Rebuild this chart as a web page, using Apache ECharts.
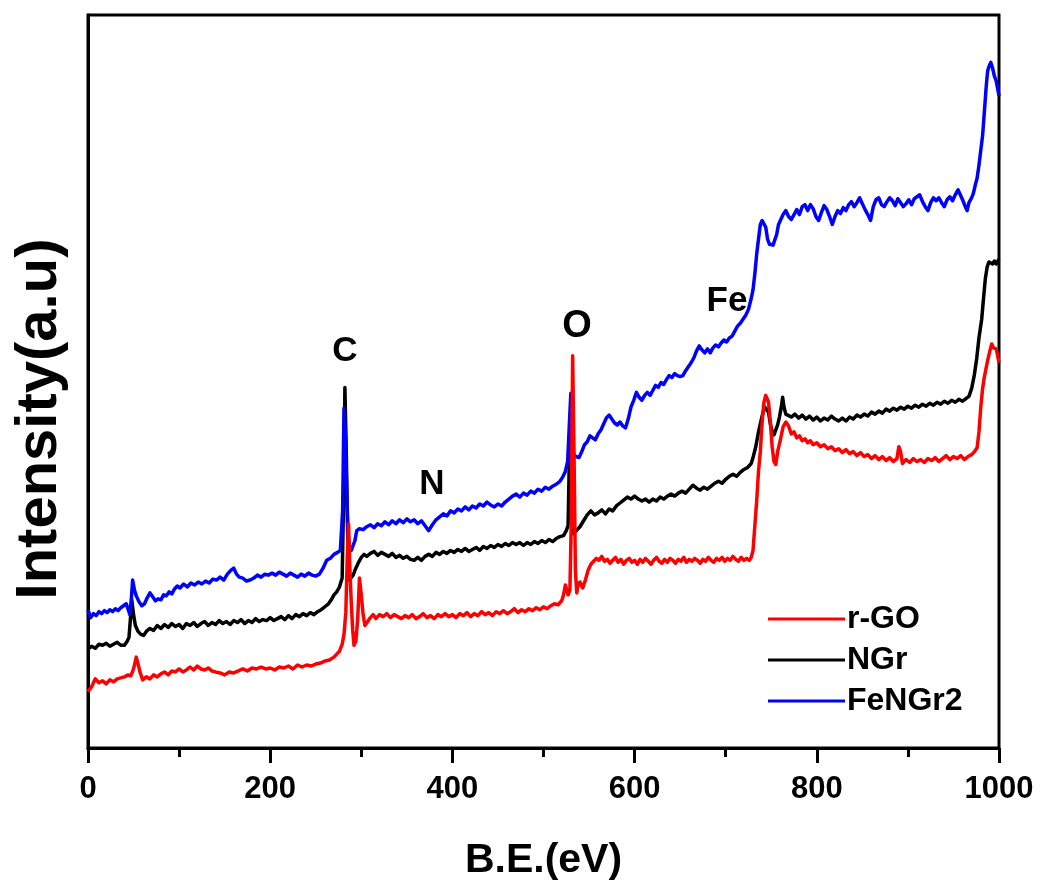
<!DOCTYPE html>
<html>
<head>
<meta charset="utf-8">
<title>XPS survey spectra</title>
<script src="https://cdn.jsdelivr.net/npm/echarts@6/dist/echarts.min.js"></script>
<style>
  html, body { margin: 0; padding: 0; background: #ffffff; }
  #chart { width: 1041px; height: 886px; }
</style>
</head>
<body>
<div id="chart"></div>
<script>
// XPS survey spectra: [binding energy (eV), intensity (a.u.)]
const rGO = [[0,57],[4,62],[8,70],[12,66],[16,68],[20,65],[24,69],[28,67],[32,70],[36,71],[40,72],[44,74],[47,73],[50,80],[53,92],[55,85],[57,77],[60,69],[64,72],[68,70],[72,74],[76,72],[80,75],[84,77],[88,74],[92,78],[96,77],[100,80],[104,77],[108,79],[112,82],[116,79],[120,83],[124,80],[128,79],[132,81],[136,78],[140,77],[145,76],[150,74],[155,77],[160,76],[165,78],[170,80],[175,78],[180,81],[185,80],[190,82],[195,80],[200,81],[205,79],[210,82],[215,81],[220,83],[225,80],[230,84],[235,82],[240,84],[245,83],[250,85],[255,86],[260,88],[265,89],[270,92],[273,95],[276,98],[279,105],[281,115],[283,137],[284.5,190],[286,227],[287.5,180],[289,147],[290.5,120],[292,104],[294,108],[296,130],[298,172],[300,155],[302,135],[304,124],[307,128],[310,132],[313,135],[316,131],[320,135],[324,133],[328,136],[332,132],[336,135],[340,133],[344,131],[348,134],[352,132],[356,135],[360,131],[364,133],[368,136],[372,132],[376,134],[380,131],[384,135],[388,133],[392,136],[396,133],[400,135],[404,132],[408,136],[412,134],[416,137],[420,133],[424,136],[428,134],[432,138],[436,135],[440,137],[444,134],[448,138],[452,136],[456,139],[460,136],[464,138],[468,141],[472,137],[476,140],[480,138],[484,141],[488,139],[492,142],[496,140],[500,143],[504,141],[508,144],[512,146],[516,145],[520,149],[522,155],[524,165],[525.5,167],[527,155],[529,160],[530.5,230],[532,397],[533.5,300],[535,180],[536.5,157],[538,165],[540,168],[543,162],[546,170],[549,180],[552,186],[555,189],[558,192],[561,190],[564,194],[567,189],[570,191],[573,187],[576,190],[579,193],[582,188],[585,191],[588,186],[591,190],[594,192],[597,188],[600,190],[603,186],[606,191],[609,188],[612,192],[615,189],[618,186],[621,190],[624,193],[627,189],[630,187],[633,191],[636,188],[639,192],[642,190],[645,187],[648,191],[651,189],[654,193],[657,188],[660,191],[663,189],[666,192],[669,190],[672,187],[675,191],[678,189],[681,193],[684,190],[687,188],[690,192],[693,190],[696,193],[699,189],[702,192],[705,190],[708,194],[711,191],[714,189],[717,193],[720,190],[723,192],[726,190],[728,193],[730,200],[732,225],[734,250],[736,280],[738,300],[740,330],[742,350],[744,357],[745.5,359],[747,350],[749,330],[751,305],[753,290],[755,287],[757,300],[760,312],[763,325],[766,330],[769,326],[772,318],[775,320],[778,314],[781,316],[784,311],[787,313],[790,309],[793,311],[796,307],[800,309],[804,305],[808,307],[812,303],[816,305],[820,301],[824,303],[828,299],[832,302],[836,298],[840,300],[844,296],[848,299],[852,295],[856,297],[860,293],[864,296],[868,292],[872,295],[876,291],[880,294],[884,290],[888,293],[890,305],[892,300],[894,288],[898,292],[902,289],[906,293],[910,290],[914,292],[918,289],[922,293],[926,291],[930,294],[934,290],[938,293],[942,296],[946,292],[950,295],[954,293],[958,296],[962,292],[966,295],[970,297],[973,300],[976,304],[978,320],[980,345],[982,364],[984,376],[987,390],[990,402],[992,409],[994,405],[997,404],[1000,390]];

const NGr = [[0,100],[4,103],[8,101],[12,105],[16,104],[20,106],[24,103],[28,105],[32,107],[36,104],[40,104],[43,108],[45,112],[46.5,130],[48,150],[50,135],[52,124],[55,118],[58,115],[61,114],[64,118],[68,121],[72,119],[76,124],[80,121],[84,125],[88,122],[92,126],[96,123],[100,125],[104,121],[108,126],[112,124],[116,127],[120,123],[124,126],[128,128],[132,124],[136,127],[140,125],[144,129],[148,126],[152,128],[156,125],[160,129],[164,127],[168,130],[172,126],[176,129],[180,127],[184,131],[188,128],[192,130],[196,129],[200,132],[204,129],[208,131],[212,133],[216,130],[220,134],[224,131],[228,135],[232,133],[236,136],[240,134],[244,137],[248,135],[252,138],[256,140],[260,143],[264,146],[267,150],[270,155],[273,158],[276,163],[279,172],[280.5,250],[282,365],[283.5,300],[285,217],[287,170],[289,168],[291,175],[294,182],[297,188],[300,193],[303,196],[306,194],[310,197],[314,199],[318,195],[322,198],[326,196],[330,194],[334,197],[338,193],[342,195],[346,192],[350,194],[354,191],[358,190],[362,193],[366,190],[370,194],[374,196],[378,194],[382,198],[386,196],[390,199],[394,197],[398,200],[402,198],[406,201],[410,199],[414,202],[418,199],[422,201],[426,203],[430,200],[434,204],[438,202],[442,205],[446,203],[450,206],[454,204],[458,207],[462,205],[466,208],[470,206],[474,208],[478,205],[482,208],[486,206],[490,209],[494,207],[498,210],[502,208],[506,211],[510,209],[514,212],[518,214],[522,215],[525,220],[527,225],[528.5,300],[530,317],[531.5,280],[533,217],[536,220],[540,224],[544,230],[548,236],[552,240],[556,236],[560,238],[564,241],[568,237],[572,242],[576,240],[580,245],[584,248],[588,251],[592,254],[596,252],[600,255],[604,252],[608,250],[612,252],[616,249],[620,252],[624,250],[628,254],[632,252],[636,255],[640,257],[644,255],[648,258],[652,260],[656,258],[660,262],[664,266],[668,263],[672,261],[676,264],[680,262],[684,265],[688,268],[692,270],[696,268],[700,272],[704,275],[708,277],[712,275],[716,279],[720,282],[724,284],[728,288],[730,294],[733,305],[736,320],[738,328],[741,340],[743,345],[745,347],[747,340],[749,328],[751,320],[753,317],[755,322],[757,327],[759,335],[761,345],[762.5,355],[764,345],[766,338],[768,337],[772,335],[776,338],[780,334],[784,337],[788,333],[792,336],[796,332],[800,335],[804,331],[808,334],[812,332],[816,336],[820,333],[824,331],[828,334],[832,331],[836,335],[840,333],[844,337],[848,335],[852,338],[856,336],[860,340],[864,338],[868,341],[872,339],[876,343],[880,341],[884,344],[888,342],[892,345],[896,343],[900,346],[904,344],[908,347],[912,345],[916,348],[920,346],[924,349],[928,347],[932,350],[936,348],[940,351],[944,349],[948,352],[952,350],[956,353],[960,351],[964,354],[967,356],[970,364],[973,378],[975.5,394],[978,415],[981,434],[983,455],[985,475],[987,487],[989,492],[991,494],[993,490],[995,493],[997,490],[1000,495]];

const FeNGr2 = [[0,140],[3,132],[6,136],[9,134],[12,138],[15,136],[18,139],[21,137],[24,140],[27,138],[30,141],[33,139],[36,142],[39,144],[42,146],[44,145],[46,135],[47.5,150],[49,170],[51,160],[53,154],[56,148],[59,144],[62,146],[65,152],[68,157],[71,153],[74,149],[77,151],[80,150],[83,155],[86,154],[89,158],[92,156],[95,161],[98,164],[101,162],[105,166],[109,163],[113,167],[117,165],[121,168],[125,166],[129,169],[133,167],[137,171],[141,170],[145,173],[149,170],[153,176],[157,180],[160,182],[163,176],[166,173],[170,172],[174,169],[178,170],[182,172],[186,175],[190,173],[194,176],[198,175],[202,177],[206,175],[210,178],[214,176],[218,174],[222,177],[226,175],[230,173],[234,176],[238,174],[242,177],[246,175],[250,174],[254,176],[258,182],[262,190],[266,192],[270,196],[274,198],[277,200],[279.5,240],[281,344],[282.5,320],[284,260],[285.5,215],[287,204],[289,200],[291,205],[293,210],[295,220],[298,222],[302,221],[306,224],[310,226],[314,223],[318,227],[322,225],[326,229],[330,226],[334,230],[338,227],[342,231],[346,228],[350,232],[354,229],[358,231],[362,227],[366,230],[370,225],[374,220],[378,226],[382,231],[386,234],[390,237],[394,235],[398,240],[402,238],[406,242],[410,240],[414,244],[418,241],[422,245],[426,243],[430,247],[434,245],[438,249],[442,246],[446,244],[450,247],[454,245],[458,249],[462,252],[466,255],[470,257],[474,254],[478,258],[482,256],[486,260],[490,258],[494,262],[498,260],[502,264],[506,262],[510,265],[514,267],[518,270],[521,274],[524,280],[526.5,290],[528.5,330],[530,359],[531.5,320],[533,297],[536,295],[539,294],[542,300],[545,307],[548,310],[551,316],[554,314],[557,312],[560,318],[563,322],[566,328],[569,334],[572,337],[575,333],[578,329],[581,327],[584,330],[587,326],[590,324],[593,333],[596,345],[599,352],[602,360],[605,355],[608,352],[611,357],[614,360],[617,357],[620,362],[623,367],[626,365],[629,370],[632,368],[635,373],[638,377],[641,375],[644,379],[647,377],[650,376],[653,377],[656,382],[659,386],[662,390],[665,395],[668,402],[671,407],[674,403],[677,400],[680,404],[683,400],[686,405],[689,408],[692,406],[695,410],[698,413],[701,411],[704,415],[707,417],[710,422],[713,427],[716,430],[719,434],[722,438],[725,444],[728,455],[730,464],[732,480],[734,500],[736,515],[738,530],[740,534],[742,532],[744,527],[746,515],[748,510],[750,512],[752,509],[754,509],[756,520],[758,530],[760,534],[763,540],[766,544],[769,538],[772,535],[775,540],[778,545],[781,540],[784,548],[787,550],[790,544],[793,550],[796,546],[799,538],[802,534],[805,542],[808,549],[811,545],[814,538],[817,530],[820,538],[823,544],[826,541],[829,547],[832,544],[835,550],[838,553],[841,548],[844,552],[847,557],[850,551],[853,545],[856,540],[859,534],[862,548],[865,555],[868,557],[871,550],[874,548],[877,553],[880,557],[883,554],[886,549],[889,556],[892,552],[895,548],[898,551],[901,555],[904,550],[907,556],[910,558],[913,560],[916,553],[919,548],[922,544],[925,552],[928,557],[931,554],[934,557],[937,552],[940,548],[943,555],[946,558],[949,554],[952,560],[955,565],[957,567],[960,555],[963,548],[965,544],[967,552],[970,557],[972,562],[974,570],[976,577],[978,590],[980,605],[982,620],[984,645],[986,670],[987.5,685],[989,690],[991,694],[993,688],[995,680],[997,675],[1000,660]];

// Axis ticks, legend entries and element annotations
const xTicks = [0, 200, 400, 600, 800, 1000];
const seriesNames = ['r-GO', 'NGr', 'FeNGr2'];
const seriesColors = ['#ff0000', '#000000', '#0000ff'];
const peakLabels = ['C', 'N', 'O', 'Fe'];
const peakCoords = [[282, 402], [377.6, 267], [536.8, 427], [701.4, 452]];

const FONT = '"Liberation Sans", Arial, Helvetica, sans-serif';

const chart = echarts.init(document.getElementById('chart'), null, { renderer: 'canvas' });

const seriesData = [rGO, NGr, FeNGr2];
const zOrder = [4, 2, 3];

const series = seriesNames.map((name, i) => ({
  name: name,
  type: 'line',
  data: seriesData[i],
  showSymbol: false,
  symbol: 'none',
  z: zOrder[i],
  lineStyle: { color: seriesColors[i], width: 3.5, join: 'round' },
  itemStyle: { color: seriesColors[i] },
  animation: false
}));

chart.setOption({
  backgroundColor: '#ffffff',
  animation: false,
  grid: {
    left: 88, right: 42, top: 15, bottom: 129,
    show: true, borderColor: '#000', borderWidth: 3, backgroundColor: 'transparent'
  },
  legend: {
    data: seriesNames,
    orient: 'vertical',
    left: 763,
    top: 598,
    itemWidth: 77,
    itemHeight: 3,
    itemGap: 9,
    icon: 'rect',
    selectedMode: false,
    textStyle: { fontFamily: FONT, fontWeight: 'bold', fontSize: 32, color: '#000', lineHeight: 32, padding: [0, 0, 0, -3] },
    itemStyle: { borderWidth: 0 }
  },
  xAxis: {
    type: 'value',
    min: 0, max: 1000, interval: 200,
    axisLine: { show: true, onZero: false, lineStyle: { color: '#000', width: 3 } },
    axisTick: { show: true, inside: false, length: 15, lineStyle: { color: '#000', width: 3 } },
    minorTick: { show: true, splitNumber: 2, length: 9, lineStyle: { color: '#000', width: 3 } },
    splitLine: { show: false },
    axisLabel: {
      margin: 26,
      fontFamily: FONT, fontWeight: 'bold', fontSize: 31, color: '#000',
      customValues: xTicks,
      formatter: v => String(v)
    },
    name: 'B.E.(eV)',
    nameLocation: 'middle',
    nameGap: 92,
    nameTextStyle: { fontFamily: FONT, fontWeight: 'bold', fontSize: 41, color: '#000' }
  },
  yAxis: {
    type: 'value',
    min: 0, max: 742,
    axisLine: { show: true, lineStyle: { color: '#000', width: 3 } },
    axisTick: { show: false },
    axisLabel: { show: false },
    splitLine: { show: false }
  },
  series: series
});

// Axis title on the left plus element labels positioned through the chart's own scales
const graphics = [{
  type: 'text',
  x: 40, y: 419,
  rotation: Math.PI / 2,
  style: {
    text: 'Intensity(a.u)',
    font: 'bold 58px ' + FONT,
    fill: '#000',
    textAlign: 'center',
    textVerticalAlign: 'middle'
  }
}];
peakCoords.forEach((c, i) => {
  const p = chart.convertToPixel({ gridIndex: 0 }, c);
  graphics.push({
    type: 'text',
    x: p[0], y: p[1],
    z: 10,
    style: {
      text: peakLabels[i],
      font: 'bold ' + (peakLabels[i] === 'O' ? 38 : 35) + 'px ' + FONT,
      fill: '#000',
      textAlign: 'center',
      textVerticalAlign: 'middle'
    }
  });
});
chart.setOption({ graphic: graphics });
</script>
</body>
</html>
